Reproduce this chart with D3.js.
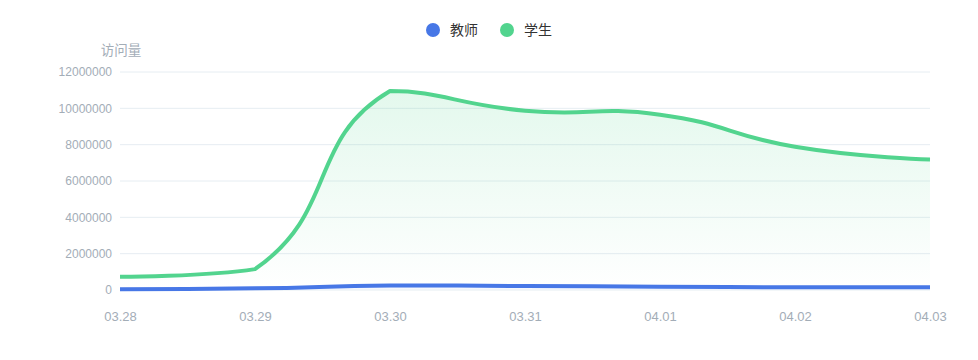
<!DOCTYPE html>
<html><head><meta charset="utf-8">
<script src="https://cdn.jsdelivr.net/npm/d3@7/dist/d3.min.js"></script>
<style>
html,body{margin:0;padding:0;background:#fff;}
svg{display:block;font-family:"Liberation Sans",Arial,"Noto Sans CJK SC",sans-serif;}
</style></head>
<body><svg id="c" width="978" height="360"></svg>
<script>
const categories = ["03.28","03.29","03.30","03.31","04.01","04.02","04.03"];
const teacherValues = [40000, 90000, 250000, 220000, 180000, 150000, 150000];
const studentValues = [730000, 1150000, 10950000, 9870000, 9650000, 7890000, 7190000];
const yTicks = [0, 2000000, 4000000, 6000000, 8000000, 10000000, 12000000];
const seriesNames = ["教师", "学生"];
const colors = ["#4777e6", "#52d48e"];

const svg = d3.select("#c");
const margin = {left:120, right:48, top:72, bottom:70};
const W = 978, H = 360;
const x = d3.scalePoint().domain(categories).range([margin.left, W - margin.right]);
const y = d3.scaleLinear().domain([0, 12000000]).range([H - margin.bottom, margin.top]);

// grid
svg.append("g").selectAll("line").data(yTicks).join("line")
  .attr("x1", margin.left).attr("x2", W - margin.right)
  .attr("y1", d => y(d)).attr("y2", d => y(d))
  .attr("stroke", "#e6edf2").attr("stroke-width", 1);

// y axis labels
const yAxis = d3.axisLeft(y).tickValues(yTicks).tickSize(0).tickPadding(8).tickFormat(d => String(d));
const gy = svg.append("g").attr("transform", `translate(${margin.left},0)`).call(yAxis);
gy.select(".domain").remove();
gy.selectAll("text").attr("fill", "#a3adb7").attr("font-size", 12).attr("font-family", "Liberation Sans, Arial, sans-serif");

// x axis labels
const xAxis = d3.axisBottom(x).tickSize(0).tickPadding(22);
const gx = svg.append("g").attr("transform", `translate(0,${y(0)})`).call(xAxis);
gx.select(".domain").remove();
gx.selectAll("text").attr("fill", "#a3adb7").attr("font-size", 13).attr("font-family", "Liberation Sans, Arial, sans-serif");

svg.append("text").attr("x", margin.left + 1).attr("y", 55).attr("text-anchor", "middle")
  .attr("fill", "#a3adb7").attr("font-size", 13.5).text("访问量");

// ECharts-4-like smooth path with bounding box constraint
function smoothPath(pts, smooth) {
  const n = pts.length;
  let minX = Infinity, minY = Infinity, maxX = -Infinity, maxY = -Infinity;
  pts.forEach(p => { minX = Math.min(minX, p[0]); maxX = Math.max(maxX, p[0]); minY = Math.min(minY, p[1]); maxY = Math.max(maxY, p[1]); });
  const clamp = (p) => [Math.max(minX, Math.min(maxX, p[0])), Math.max(minY, Math.min(maxY, p[1]))];
  const dist = (a, b) => Math.hypot(a[0]-b[0], a[1]-b[1]);
  const cpIn = [], cpOut = [];
  for (let i = 0; i < n; i++) {
    const p = pts[i];
    if (i === 0) { cpOut[i] = p.slice(); cpIn[i] = p.slice(); continue; }
    if (i === n - 1) { cpIn[i] = p.slice(); cpOut[i] = p.slice(); continue; }
    const prev = pts[i-1];
    const next = pts[i+1];
    const v = [next[0]-prev[0], next[1]-prev[1]];
    const l0 = dist(p, prev), l1 = dist(p, next);
    const ratio = l1 / (l0 + l1);
    cpIn[i] = clamp([p[0] - v[0]*smooth*(1-ratio), p[1] - v[1]*smooth*(1-ratio)]);
    cpOut[i] = clamp([p[0] + v[0]*smooth*ratio, p[1] + v[1]*smooth*ratio]);
  }
  let d = `M${pts[0][0]},${pts[0][1]}`;
  for (let i = 1; i < n; i++) {
    d += `C${cpOut[i-1][0]},${cpOut[i-1][1]},${cpIn[i][0]},${cpIn[i][1]},${pts[i][0]},${pts[i][1]}`;
  }
  return d;
}

const defs = svg.append("defs");
[teacherValues, studentValues].forEach((vals, si) => {
  const pts = vals.map((v, i) => [x(categories[i]), y(v)]);
  const line = smoothPath(pts, 0.5);
  const gid = "grad" + si;
  const top = d3.min(pts, p => p[1]);
  const g = defs.append("linearGradient").attr("id", gid).attr("gradientUnits", "userSpaceOnUse")
    .attr("x1", 0).attr("x2", 0).attr("y1", top).attr("y2", y(0));
  g.append("stop").attr("offset", 0).attr("stop-color", colors[si]).attr("stop-opacity", 0.16);
  g.append("stop").attr("offset", 1).attr("stop-color", colors[si]).attr("stop-opacity", 0.0);
  svg.append("path").attr("d", line + `L${pts[pts.length-1][0]},${y(0)}L${pts[0][0]},${y(0)}Z`)
    .attr("fill", `url(#${gid})`);
});
[teacherValues, studentValues].forEach((vals, si) => {
  const pts = vals.map((v, i) => [x(categories[i]), y(v)]);
  svg.append("path").attr("d", smoothPath(pts, 0.5))
    .attr("fill", "none").attr("stroke", colors[si]).attr("stroke-width", 4)
    .attr("stroke-linejoin", "round");
});

// legend
const legendX = [433, 507];
const lg = svg.append("g");
seriesNames.forEach((name, i) => {
  lg.append("circle").attr("cx", legendX[i]).attr("cy", 30).attr("r", 7).attr("fill", colors[i]);
  lg.append("text").attr("x", legendX[i] + 17).attr("y", 35).attr("font-size", 14)
    .attr("fill", "#333").attr("font-family", "Noto Sans CJK SC, sans-serif").text(name);
});
</script></body></html>
